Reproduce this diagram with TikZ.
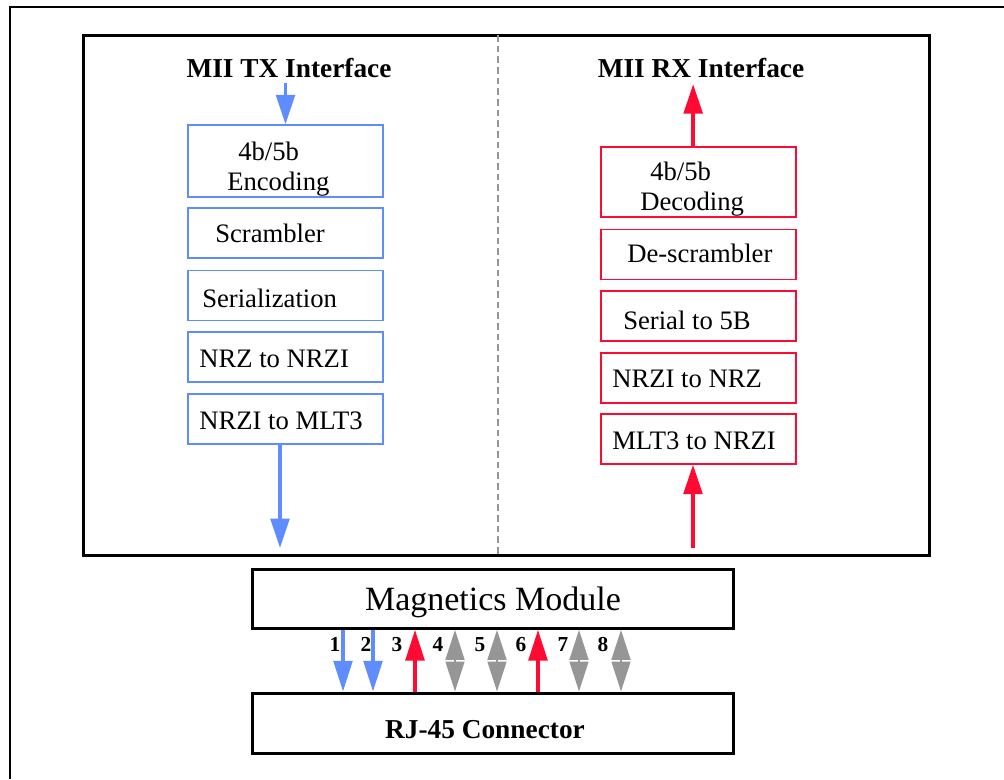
\documentclass[tikz,border=0pt]{standalone}
\usepackage{fontspec}
\setmainfont{Liberation Serif}
\usetikzlibrary{arrows.meta}

\definecolor{txblue}{RGB}{95,140,255}
\definecolor{rxred}{RGB}{255,10,50}
\definecolor{pingray}{RGB}{150,150,150}

\tikzset{
	stage/.style={draw, line width=1.1pt, minimum width=146.25pt, minimum height=37.5pt, inner sep=0pt},
	txstage/.style={stage, draw=txblue},
	rxstage/.style={stage, draw=rxred},
	txt/.style={font=\fontsize{20}{24}\selectfont, inner sep=0pt, anchor=base west},
	title/.style={font=\fontsize{20.5}{24}\selectfont\bfseries, inner sep=0pt, anchor=base},
	module/.style={draw, line width=2.25pt, minimum width=360.75pt, minimum height=44pt, inner sep=0pt},
	pinlabel/.style={font=\fontsize{16}{18}\selectfont\bfseries, inner sep=0pt, anchor=base},
	flow/.style={line width=2.6pt, -{Triangle[length=22pt, width=14pt]}},
	pin/.style={line width=2.6pt, -{Triangle[length=23pt, width=14pt]}},
	bipin/.style={line width=2pt, pingray, {Triangle[length=22.5pt, width=14pt]}-{Triangle[length=22.5pt, width=14pt]}}
}

\begin{document}
\begin{tikzpicture}[x=0.75pt, y=-0.75pt]
	\useasboundingbox (0,0) rectangle (1004,779);
	%page frame
	\draw[line width=2.2pt] (10,779) -- (10,7) -- (1004,7);
	
	%PHY block
	\draw[line width=2.25pt] (83,35) rectangle (929,555);
	\draw[pingray, line width=0.9pt, dash pattern=on 5pt off 3pt] (498,35) -- (498,555);
	
	%transmit side
	\node (txtitle) at (289,77) [title]{MII TX Interface};
	\node (enc) at (285.5,161) [txstage, minimum height=54pt]{};
	\node (scr) at (285.5,233) [txstage]{};
	\node (ser) at (285.5,295.5) [txstage]{};
	\node (nrz) at (285.5,357) [txstage]{};
	\node (mlt) at (285.5,419) [txstage]{};
	\node (encA) at (238,160) [txt]{4b/5b};
	\node (encB) at (227,190) [txt]{Encoding};
	\node (scrT) at (215,242) [txt]{Scrambler};
	\node (serT) at (202,307) [txt]{Serialization};
	\node (nrzT) at (199,367) [txt]{NRZ to NRZI};
	\node (mltT) at (199,429) [txt]{NRZI to MLT3};
	\coordinate (txout) at (280,548);
	\draw[flow, txblue] ([yshift=-4pt]txtitle.south -| enc.north) -- (enc.north);
	\draw[flow, txblue] (txout |- mlt.south) -- (txout);
	
	%receive side
	\node (rxtitle) at (701,77) [title]{MII RX Interface};
	\node (dec) at (698.5,182) [rxstage, minimum height=52.5pt]{};
	\node (dscr) at (698.5,254.5) [rxstage]{};
	\node (s5b) at (698.5,316) [rxstage]{};
	\node (nrzi) at (698.5,378) [rxstage]{};
	\node (mlti) at (698.5,439) [rxstage]{};
	\node (decA) at (650,180) [txt]{4b/5b};
	\node (decB) at (640,210) [txt]{Decoding};
	\node (dscrT) at (627,262) [txt]{De-scrambler};
	\node (s5bT) at (623,329) [txt]{Serial to 5B};
	\node (nrziT) at (612,387) [txt]{NRZI to NRZ};
	\node (mltiT) at (612,449) [txt]{MLT3 to NRZI};
	\coordinate (rxin) at (693,548);
	\draw[flow, rxred] ([xshift=-4pt]dec.north) -- ([xshift=-4pt,yshift=-5pt]dec.north |- rxtitle.south);
	\draw[flow, rxred] (rxin) -- (rxin |- mlti.south);
	
	%magnetics and connector
	\node (mag) at (492.5,599) [module]{};
	\node (rj) at (492.5,723) [module, minimum height=45pt]{};
	\node (magT) at (493,610) [font=\fontsize{25.5}{30}\selectfont, inner sep=0pt, anchor=base]{Magnetics Module};
	\node (rjT) at (485,738) [title]{RJ-45 Connector};
	
	%pins
	\foreach \i/\x/\lx in {1/343/335, 2/373/366, 3/415/397, 4/455/438, 5/497/480, 6/538/521, 7/579/563, 8/621/603}{
		\coordinate (p\i) at (\x,660);
		\node (n\i) at (\lx,651) [pinlabel]{\i};
	}
	\foreach \i in {1, 2}{
		\draw[pin, txblue] (p\i |- mag.south) -- (p\i |- rj.north);
	}
	\foreach \i in {3, 6}{
		\draw[pin, rxred] (p\i |- rj.north) -- (p\i |- mag.south);
	}
	\foreach \i in {4, 5, 7, 8}{
		\draw[bipin] (p\i |- mag.south) -- (p\i |- rj.north);
	}
\end{tikzpicture}
\end{document}
